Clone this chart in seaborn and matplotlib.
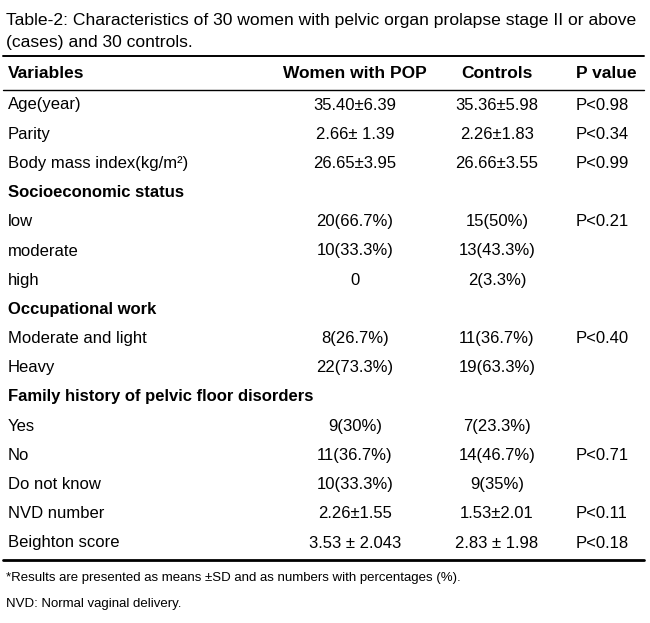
import matplotlib
matplotlib.use("Agg")
import matplotlib.pyplot as plt
import seaborn as sns

# table content
title_lines = ["Table-2: Characteristics of 30 women with pelvic organ prolapse stage II or above",
               "(cases) and 30 controls."]
columns = ["Variables", "Women with POP", "Controls", "P value"]
variables = ["Age(year)", "Parity", "Body mass index(kg/m\u00b2)", "Socioeconomic status",
             "low", "moderate", "high", "Occupational work", "Moderate and light", "Heavy",
             "Family history of pelvic floor disorders", "Yes", "No", "Do not know",
             "NVD number", "Beighton score"]
pop_values = ["35.40\u00b16.39", "2.66\u00b1 1.39", "26.65\u00b13.95", "",
              "20(66.7%)", "10(33.3%)", "0", "", "8(26.7%)", "22(73.3%)",
              "", "9(30%)", "11(36.7%)", "10(33.3%)", "2.26\u00b11.55", "3.53 \u00b1 2.043"]
control_values = ["35.36\u00b15.98", "2.26\u00b11.83", "26.66\u00b13.55", "",
                  "15(50%)", "13(43.3%)", "2(3.3%)", "", "11(36.7%)", "19(63.3%)",
                  "", "7(23.3%)", "14(46.7%)", "9(35%)", "1.53\u00b12.01", "2.83 \u00b1 1.98"]
p_values = ["P<0.98", "P<0.34", "P<0.99", "", "P<0.21", "", "", "", "P<0.40", "",
            "", "", "P<0.71", "", "P<0.11", "P<0.18"]
section_rows = ["Socioeconomic status", "Occupational work",
                "Family history of pelvic floor disorders"]
footnotes = ["*Results are presented as means \u00b1SD and as numbers with percentages (%).",
             "NVD: Normal vaginal delivery."]

sns.set_theme(style="white")
plt.rcParams['font.family'] = ['Liberation Sans', 'DejaVu Sans']
plt.rcParams['text.color'] = 'black'

fig = plt.figure(figsize=(6.5, 6.23), dpi=100)
ax = fig.add_axes([0, 0, 1, 1])
ax.set_xlim(0, 650)
ax.set_ylim(623, 0)
ax.axis("off")

fs = 12
t1 = ax.text(6, 20, title_lines[0], fontsize=11, va="center", ha="left")
renderer = fig.canvas.get_renderer()
# grow the first title line until it spans the table width
size = 11.0
while size < 14:
    t1.set_fontsize(size + 0.1)
    if t1.get_window_extent(renderer).width > 634:
        t1.set_fontsize(size)
        break
    size += 0.1
ax.text(6, 42, title_lines[1], fontsize=size, va="center", ha="left")

ax.plot([3, 644], [56, 56], color="black", lw=1.4)
ax.plot([3, 644], [90, 90], color="black", lw=1.0)
ax.plot([3, 644], [560, 560], color="black", lw=2.0)

hdr_y = 73
hfs = 12.5
ax.text(8, hdr_y, columns[0], fontsize=hfs, fontweight="bold", va="center", ha="left")
ax.text(355, hdr_y, columns[1], fontsize=hfs, fontweight="bold", va="center", ha="center")
ax.text(497, hdr_y, columns[2], fontsize=hfs, fontweight="bold", va="center", ha="center")
ax.text(606, hdr_y, columns[3], fontsize=hfs, fontweight="bold", va="center", ha="center")

y0 = 105
step = 29.2
for i, var in enumerate(variables):
    y = y0 + i * step
    bold = var in section_rows
    ax.text(8, y, var, fontsize=fs, va="center", ha="left",
            fontweight="bold" if bold else "normal")
    ax.text(355, y, pop_values[i], fontsize=fs, va="center", ha="center")
    ax.text(497, y, control_values[i], fontsize=fs, va="center", ha="center")
    ax.text(576, y, p_values[i], fontsize=fs, va="center", ha="left")

ax.text(6, 578, footnotes[0], fontsize=9.5, va="center", ha="left")
ax.text(6, 604, footnotes[1], fontsize=9.5, va="center", ha="left")

fig.savefig("out.png", dpi=100, facecolor="white")
